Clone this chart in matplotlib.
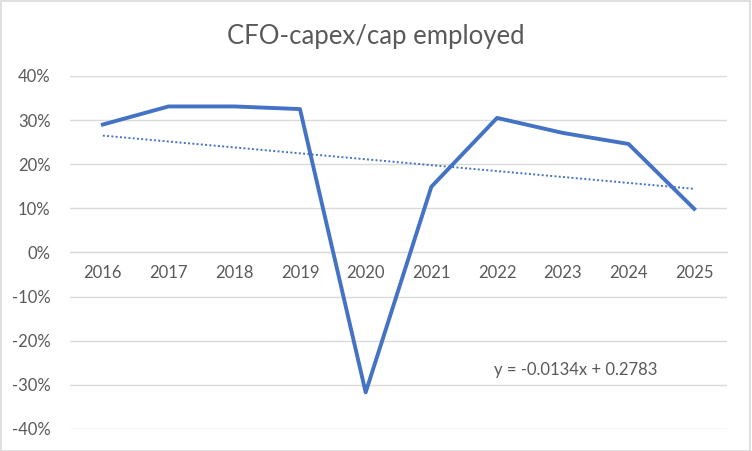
import numpy as np
import matplotlib.pyplot as plt
from matplotlib.patches import Rectangle
from matplotlib.ticker import FuncFormatter

plt.rcParams['font.family'] = ['Lato', 'DejaVu Sans']
plt.rcParams['axes.unicode_minus'] = False

years = ['2016', '2017', '2018', '2019', '2020', '2021', '2022', '2023', '2024', '2025']
ratio = [0.290, 0.331, 0.331, 0.325, -0.317, 0.149, 0.305, 0.271, 0.246, 0.099]
# trendline coefficients shown on chart
slope, intercept = -0.0134, 0.2783

grey = '#595959'
grid = '#d9d9d9'
blue = '#4472C4'

fig = plt.figure(figsize=(7.52, 4.51), dpi=100)
ax = fig.add_axes([0.0931, 0.0488, 0.8737, 0.7827])

x = np.arange(len(years))
ax.plot(x, ratio, color=blue, lw=2.8, solid_joinstyle='round', zorder=3)
xt = x + 1
ax.plot(x, slope * xt + intercept, color=blue, lw=1.4, ls=(0, (1, 1.2)), zorder=3)

ax.set_xlim(-0.5, len(years) - 0.5)
ax.set_ylim(-0.4, 0.4)
ax.set_yticks(np.arange(-0.4, 0.41, 0.1))
ax.yaxis.set_major_formatter(FuncFormatter(lambda v, p: f'{round(v * 100):d}%'))
ax.grid(axis='y', color=grid, lw=1)
ax.set_axisbelow(True)
for s in ['top', 'right', 'left']:
    ax.spines[s].set_visible(False)
ax.spines['bottom'].set_position(('data', 0))
ax.spines['bottom'].set_color(grid)
ax.set_xticks(x)
ax.set_xticklabels(years)
ax.tick_params(axis='both', length=0, colors=grey, labelsize=12)
ax.tick_params(axis='x', pad=9)
ax.tick_params(axis='y', pad=14)

ax.text(7.2, -0.267, 'y = -0.0134x + 0.2783', color=grey, fontsize=12,
        ha='center', va='center')

fig.text(0.5, 0.918, 'CFO-capex/cap employed', ha='center', va='center',
         fontsize=18.5, color=grey)
fig.patches.append(Rectangle((0.001, 0.001), 0.997, 0.996, transform=fig.transFigure,
                             fill=False, edgecolor='#d9d9d9', lw=1.2))

fig.savefig('out.png', dpi=100)
